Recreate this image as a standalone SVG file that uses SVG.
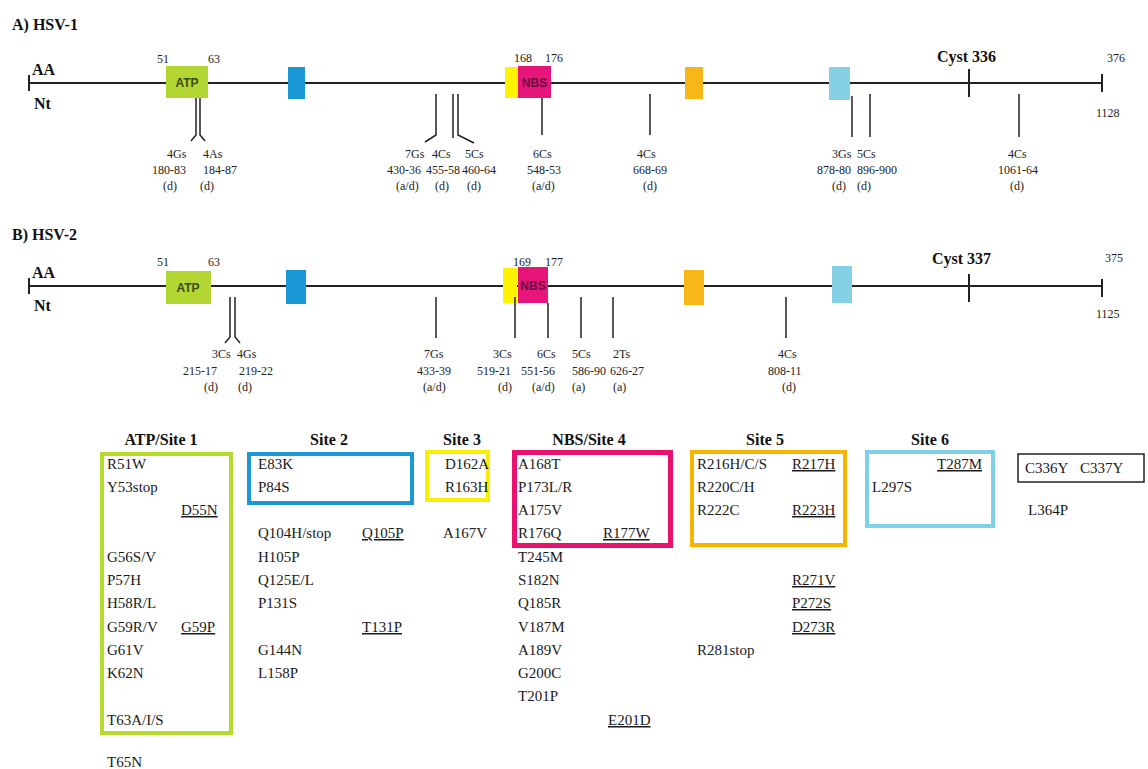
<svg xmlns="http://www.w3.org/2000/svg" width="1148" height="769" viewBox="0 0 1148 769">
<style>
.title{font-family:"Liberation Serif",serif;font-weight:bold;font-size:16px;fill:#111}
.num{font-family:"Liberation Serif",serif;font-size:12px;fill:#222}
.lab{font-family:"Liberation Serif",serif;font-size:12px;fill:#222}
.dom{font-family:"Liberation Sans",sans-serif;font-weight:bold;font-size:12px}
.hd{font-family:"Liberation Serif",serif;font-weight:bold;font-size:16px;fill:#111;text-anchor:middle}
.mu{font-family:"Liberation Serif",serif;font-size:15px;fill:#1a1a1a}
.u{text-decoration:underline}
.axis{stroke:#222;stroke-width:2;fill:none}
.mk{stroke:#222;stroke-width:1.5;fill:none}
.box{fill:none;stroke-width:4}
</style>
<rect width="1148" height="769" fill="#ffffff"/>

<!-- Section A -->
<g id="sectionA">
<text class="title" x="12" y="30">A) HSV-1</text>
<text class="title" x="32" y="75">AA</text>
<text class="title" x="34" y="109">Nt</text>
<text class="num" x="157" y="63">51</text>
<text class="num" x="208" y="63">63</text>
<text class="num" x="514" y="62">168</text>
<text class="num" x="545" y="62">176</text>
<text class="title" x="937" y="62">Cyst 336</text>
<text class="num" x="1107" y="62">376</text>
<text class="num" x="1096" y="117">1128</text>
</g>
<g id="axisA">
<line class="axis" x1="29" y1="83" x2="1102" y2="83"/>
<line class="axis" x1="29" y1="75" x2="29" y2="91"/>
<line class="axis" x1="1102" y1="74" x2="1102" y2="92"/>
<line class="axis" x1="969" y1="69" x2="969" y2="97"/>
</g>
<g id="domainsA">
<rect x="166" y="66" width="42" height="32" fill="#b3d632"/>
<text class="dom" x="187" y="87" text-anchor="middle" fill="#3a4a14">ATP</text>
<rect x="288" y="67" width="17" height="32" fill="#1a97d5"/>
<rect x="505" y="67" width="13" height="31" fill="#fff200"/>
<rect x="518" y="66" width="33" height="32" fill="#e6157a"/>
<text class="dom" x="534.5" y="87" text-anchor="middle" font-size="11" fill="#6a1040">NBS</text>
<rect x="685" y="67" width="18" height="32" fill="#f7b719"/>
<rect x="829" y="67" width="21" height="33" fill="#86d0e6"/>
</g>
<g id="connectorsA">
<polyline class="mk" points="196,98 196,135 191,141"/>
<polyline class="mk" points="200,98 200,135 205,141"/>
<polyline class="mk" points="436,94 436,135 425,142"/>
<polyline class="mk" points="453,94 453,138"/>
<polyline class="mk" points="458,94 458,135 474,143"/>
<polyline class="mk" points="542,98 542,135"/>
<polyline class="mk" points="650,94 650,135"/>
<polyline class="mk" points="852,96 852,137"/>
<polyline class="mk" points="870,94 870,137"/>
<polyline class="mk" points="1019,94 1019,137"/>
</g>
<g id="labelsA">
<text class="lab" x="167" y="158">4Gs</text><text class="lab" x="152" y="174">180-83</text><text class="lab" x="163" y="190">(d)</text>
<text class="lab" x="203" y="158">4As</text><text class="lab" x="203" y="174">184-87</text><text class="lab" x="200" y="190">(d)</text>
<text class="lab" x="405" y="158">7Gs</text><text class="lab" x="387" y="174">430-36</text><text class="lab" x="396" y="190">(a/d)</text>
<text class="lab" x="432" y="158">4Cs</text><text class="lab" x="426" y="174">455-58</text><text class="lab" x="435" y="190">(d)</text>
<text class="lab" x="465" y="158">5Cs</text><text class="lab" x="462" y="174">460-64</text><text class="lab" x="467" y="190">(d)</text>
<text class="lab" x="533" y="158">6Cs</text><text class="lab" x="527" y="174">548-53</text><text class="lab" x="532" y="190">(a/d)</text>
<text class="lab" x="637" y="158">4Cs</text><text class="lab" x="633" y="174">668-69</text><text class="lab" x="643" y="190">(d)</text>
<text class="lab" x="832" y="158">3Gs</text><text class="lab" x="817" y="174">878-80</text><text class="lab" x="832" y="190">(d)</text>
<text class="lab" x="857" y="158">5Cs</text><text class="lab" x="857" y="174">896-900</text><text class="lab" x="857" y="190">(d)</text>
<text class="lab" x="1008" y="158">4Cs</text><text class="lab" x="998" y="174">1061-64</text><text class="lab" x="1010" y="190">(d)</text>
</g>

<!-- Section B -->
<g id="sectionB">
<text class="title" x="12" y="240">B) HSV-2</text>
<text class="title" x="32" y="278">AA</text>
<text class="title" x="34" y="311">Nt</text>
<text class="num" x="157" y="266">51</text>
<text class="num" x="208" y="266">63</text>
<text class="num" x="513" y="266">169</text>
<text class="num" x="545" y="266">177</text>
<text class="title" x="932" y="264">Cyst 337</text>
<text class="num" x="1105" y="262">375</text>
<text class="num" x="1096" y="318">1125</text>
</g>
<g id="axisB">
<line class="axis" x1="29" y1="286" x2="1102" y2="286"/>
<line class="axis" x1="29" y1="278" x2="29" y2="294"/>
<line class="axis" x1="1102" y1="279" x2="1102" y2="297"/>
<line class="axis" x1="969" y1="274" x2="969" y2="302"/>
</g>
<g id="domainsB">
<rect x="166" y="271" width="45" height="33" fill="#b3d632"/>
<text class="dom" x="188" y="292" text-anchor="middle" fill="#3a4a14">ATP</text>
<rect x="286" y="270" width="20" height="34" fill="#1a97d5"/>
<rect x="503" y="268" width="14" height="35" fill="#fff200"/>
<rect x="518" y="267" width="30" height="36" fill="#e6157a"/>
<text class="dom" x="533" y="290" text-anchor="middle" font-size="11" fill="#6a1040">NBS</text>
<rect x="684" y="270" width="20" height="35" fill="#f7b719"/>
<rect x="832" y="266" width="20" height="37" fill="#86d0e6"/>
</g>
<g id="connectorsB">
<polyline class="mk" points="230,297 230,337 225,343"/>
<polyline class="mk" points="235,297 235,337 240,343"/>
<polyline class="mk" points="436,297 436,338"/>
<polyline class="mk" points="515,297 515,338"/>
<polyline class="mk" points="548,303 548,338"/>
<polyline class="mk" points="581,297 581,338"/>
<polyline class="mk" points="613,297 613,338"/>
<polyline class="mk" points="786,297 786,338"/>
</g>
<g id="labelsB">
<text class="lab" x="212" y="358">3Cs</text><text class="lab" x="183" y="375">215-17</text><text class="lab" x="204" y="391">(d)</text>
<text class="lab" x="237" y="358">4Gs</text><text class="lab" x="239" y="375">219-22</text><text class="lab" x="238" y="391">(d)</text>
<text class="lab" x="424" y="358">7Gs</text><text class="lab" x="417" y="375">433-39</text><text class="lab" x="423" y="391">(a/d)</text>
<text class="lab" x="493" y="358">3Cs</text><text class="lab" x="477" y="375">519-21</text><text class="lab" x="498" y="391">(d)</text>
<text class="lab" x="537" y="358">6Cs</text><text class="lab" x="521" y="375">551-56</text><text class="lab" x="532" y="391">(a/d)</text>
<text class="lab" x="572" y="358">5Cs</text><text class="lab" x="572" y="375">586-90</text><text class="lab" x="572" y="391">(a)</text>
<text class="lab" x="613" y="358">2Ts</text><text class="lab" x="610" y="375">626-27</text><text class="lab" x="613" y="391">(a)</text>
<text class="lab" x="778" y="358">4Cs</text><text class="lab" x="768" y="375">808-11</text><text class="lab" x="782" y="391">(d)</text>
</g>

<!-- Table -->
<g id="site1">
<text class="hd" x="161" y="445">ATP/Site 1</text>
<rect class="box" x="102" y="454" width="129" height="279" stroke="#b5dc2a"/>
<text class="mu" x="107" y="469">R51W</text>
<text class="mu" x="107" y="492">Y53stop</text>
<text class="mu u" x="181" y="515">D55N</text>
<text class="mu" x="107" y="562">G56S/V</text>
<text class="mu" x="107" y="585">P57H</text>
<text class="mu" x="107" y="608">H58R/L</text>
<text class="mu" x="107" y="632">G59R/V</text>
<text class="mu u" x="181" y="632">G59P</text>
<text class="mu" x="107" y="655">G61V</text>
<text class="mu" x="107" y="678">K62N</text>
<text class="mu" x="107" y="725">T63A/I/S</text>
<text class="mu" x="107" y="767">T65N</text>
</g>
<g id="site2">
<text class="hd" x="329" y="445">Site 2</text>
<rect class="box" x="249" y="454" width="163" height="49" stroke="#1a97d5"/>
<text class="mu" x="258" y="469">E83K</text>
<text class="mu" x="258" y="492">P84S</text>
<text class="mu" x="258" y="538">Q104H/stop</text>
<text class="mu u" x="362" y="538">Q105P</text>
<text class="mu" x="258" y="562">H105P</text>
<text class="mu" x="258" y="585">Q125E/L</text>
<text class="mu" x="258" y="608">P131S</text>
<text class="mu u" x="362" y="632">T131P</text>
<text class="mu" x="258" y="655">G144N</text>
<text class="mu" x="258" y="678">L158P</text>
</g>
<g id="site3">
<text class="hd" x="462" y="445">Site 3</text>
<rect class="box" x="427" y="452" width="61" height="48" stroke="#f7ee00"/>
<text class="mu" x="445" y="469">D162A</text>
<text class="mu" x="445" y="492">R163H</text>
<text class="mu" x="443" y="538">A167V</text>
</g>
<g id="site4">
<text class="hd" x="589" y="445">NBS/Site 4</text>
<rect x="514.5" y="452.5" width="156" height="93" fill="none" stroke="#e8116e" stroke-width="5"/>
<text class="mu" x="518" y="469">A168T</text>
<text class="mu" x="518" y="492">P173L/R</text>
<text class="mu" x="518" y="515">A175V</text>
<text class="mu" x="518" y="538">R176Q</text>
<text class="mu u" x="603" y="538">R177W</text>
<text class="mu" x="518" y="562">T245M</text>
<text class="mu" x="518" y="585">S182N</text>
<text class="mu" x="518" y="608">Q185R</text>
<text class="mu" x="518" y="632">V187M</text>
<text class="mu" x="518" y="655">A189V</text>
<text class="mu" x="518" y="678">G200C</text>
<text class="mu" x="518" y="701">T201P</text>
<text class="mu u" x="608" y="725">E201D</text>
</g>
<g id="site5">
<text class="hd" x="765" y="445">Site 5</text>
<rect class="box" x="692" y="452" width="153" height="93" stroke="#f8b500"/>
<text class="mu" x="697" y="469">R216H/C/S</text>
<text class="mu u" x="792" y="469">R217H</text>
<text class="mu" x="697" y="492">R220C/H</text>
<text class="mu" x="697" y="515">R222C</text>
<text class="mu u" x="792" y="515">R223H</text>
<text class="mu u" x="792" y="585">R271V</text>
<text class="mu u" x="792" y="608">P272S</text>
<text class="mu u" x="792" y="632">D273R</text>
<text class="mu" x="697" y="655">R281stop</text>
</g>
<g id="site6">
<text class="hd" x="930" y="445">Site 6</text>
<rect class="box" x="867" y="452" width="126" height="74" stroke="#80d0e8"/>
<text class="mu u" x="937" y="469">T287M</text>
<text class="mu" x="872" y="492">L297S</text>
</g>
<g id="cyst">
<rect x="1018" y="454" width="126" height="28" fill="none" stroke="#222" stroke-width="1.5"/>
<text class="mu" x="1025" y="473">C336Y</text>
<text class="mu" x="1080" y="473">C337Y</text>
<text class="mu" x="1028" y="515">L364P</text>
</g>
</svg>
